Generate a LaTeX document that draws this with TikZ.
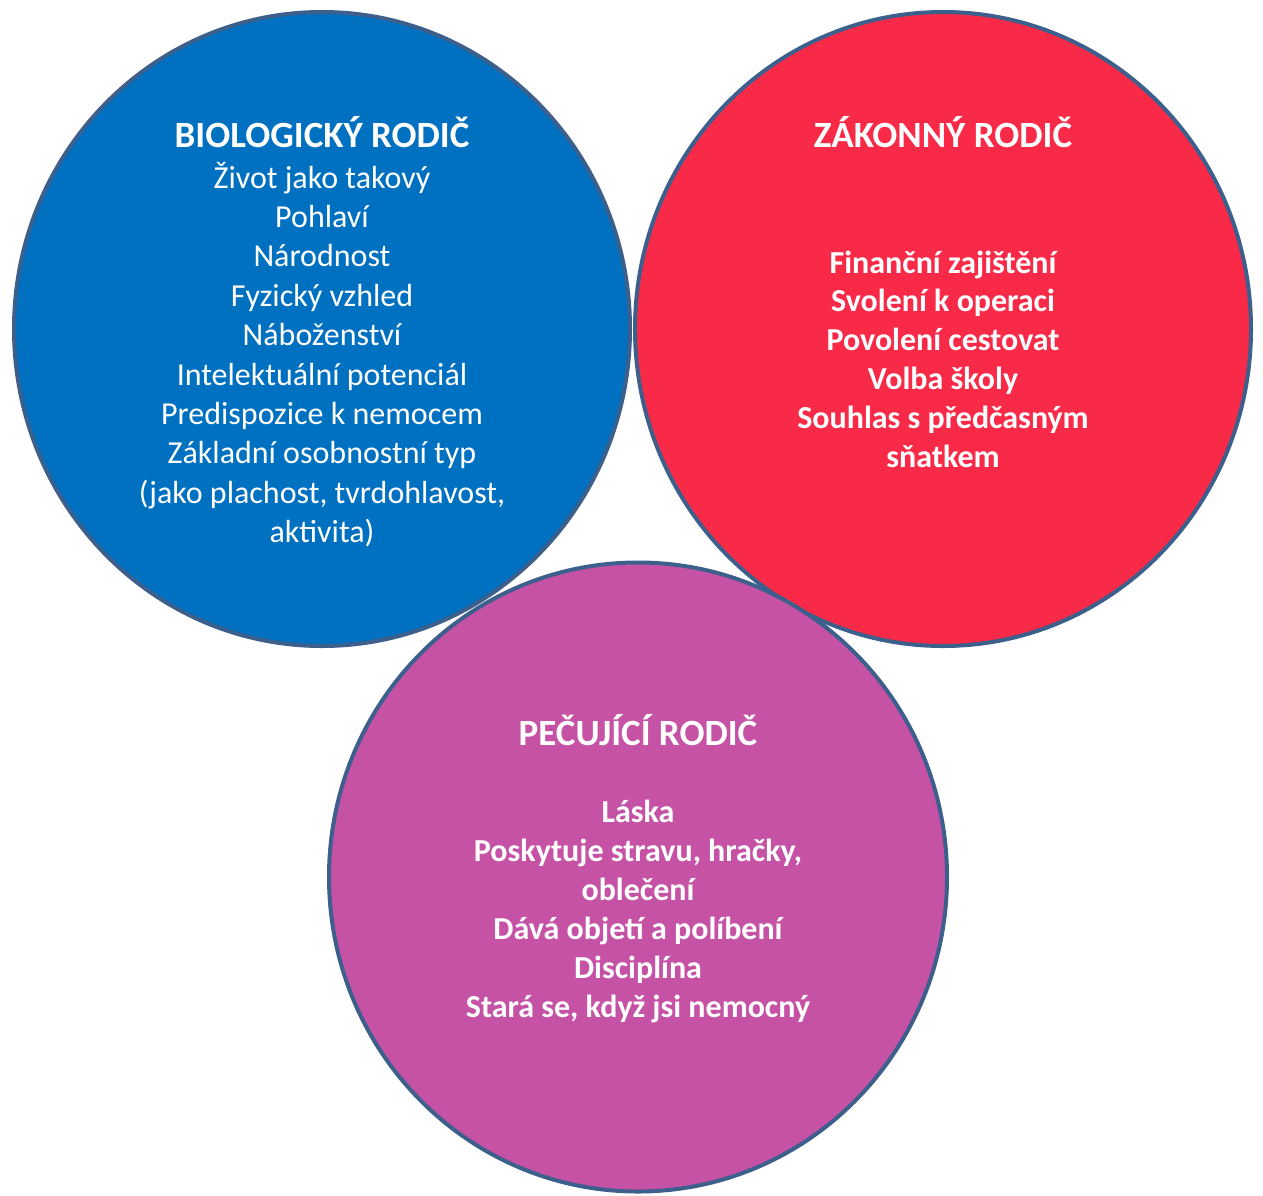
\documentclass[tikz,border=0pt]{standalone}
\usepackage{fontspec}
\setmainfont{Carlito}
\usepackage{xcolor}
\usepackage{tikz}
\usetikzlibrary{shapes.geometric}
\definecolor{biofill}{HTML}{0070C0}
\definecolor{lawfill}{HTML}{F82A48}
\definecolor{carefill}{HTML}{C652A6}
\definecolor{rimcolor}{HTML}{3C5F8C}
\tikzstyle{circ}=[shape=ellipse, draw=rimcolor, line width=2pt, inner sep=0pt]
\tikzstyle{title}=[anchor=base, text=white, font=\fontsize{18.5}{22}\selectfont\bfseries, inner sep=0pt]
\tikzstyle{item}=[anchor=base, text=white, font=\fontsize{16}{19.5}\selectfont, inner sep=0pt]
\tikzstyle{bold item}=[item, font=\fontsize{16}{19.5}\selectfont\bfseries]
\pgfdeclarelayer{circlelayer}
\pgfdeclarelayer{textlayer}
\pgfsetlayers{circlelayer,textlayer,main}
\begin{document}
\begin{tikzpicture}[x=0.5pt, y=-0.5pt]
	\useasboundingbox (0,0) rectangle (1263,1195);
	\begin{pgfonlayer}{circlelayer}
		\node [style=circ, fill=biofill, minimum width=308pt, minimum height=317pt] (bio) at (322, 329) {};
		\node [style=circ, fill=lawfill, minimum width=308pt, minimum height=317pt] (law) at (943, 329) {};
		\node [style=circ, fill=carefill, minimum width=309pt, minimum height=314.5pt] (care) at (638, 877) {};
	\end{pgfonlayer}
	\begin{pgfonlayer}{textlayer}
		\node [style=title] (biotitle) at (322, 147) {BIOLOGICKÝ RODIČ};
		\foreach \t [count=\i] in {Život jako takový, Pohlaví, Národnost, Fyzický vzhled, Náboženství, Intelektuální potenciál, Predispozice k nemocem, Základní osobnostní typ, {(jako plachost, tvrdohlavost,}, aktivita)}
			\node [style=item] (bio\i) at (322, 188+39.4*\i-39.4) {\t};
		\node [style=title] (lawtitle) at (943, 147) {ZÁKONNÝ RODIČ};
		\foreach \t [count=\i] in {Finanční zajištění, Svolení k operaci, Povolení cestovat, Volba školy, Souhlas s předčasným, sňatkem}
			\node [style=bold item] (law\i) at (943, 273+38.8*\i-38.8) {\t};
		\node [style=title] (caretitle) at (638, 745) {PEČUJÍCÍ RODIČ};
		\foreach \t [count=\i] in {Láska, {Poskytuje stravu, hračky,}, oblečení, Dává objetí a políbení, Disciplína, {Stará se, když jsi nemocný}}
			\node [style=bold item] (care\i) at (638, 822+39*\i-39) {\t};
	\end{pgfonlayer}
\end{tikzpicture}
\end{document}
